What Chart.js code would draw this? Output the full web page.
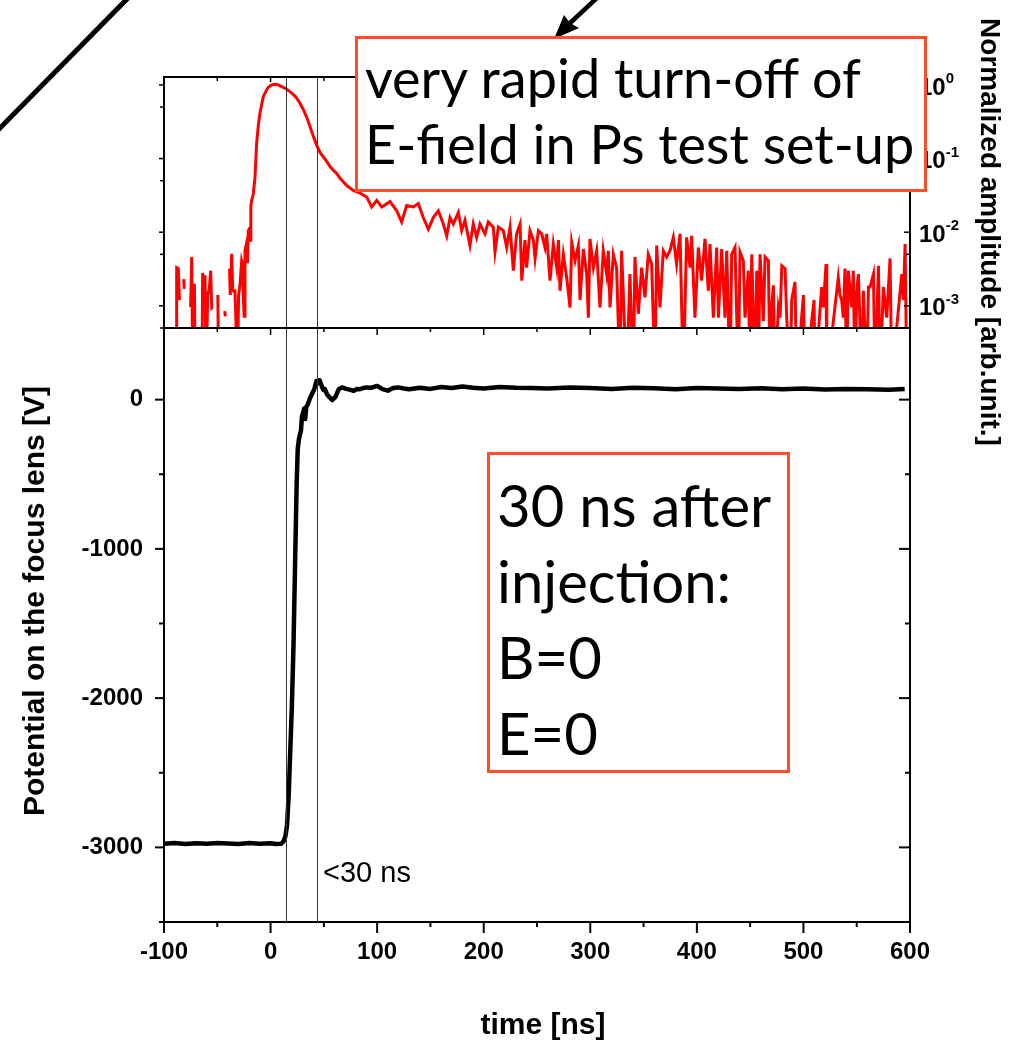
<!DOCTYPE html>
<html>
<head>
<meta charset="utf-8">
<script src="https://cdn.jsdelivr.net/npm/chart.js@4.4.0/dist/chart.umd.min.js"></script>
<style>
  body { margin: 0; background: #fff; }
  #page { position: relative; width: 1010px; height: 1043px; overflow: hidden; background: #fff; }
  #page canvas, #page svg { position: absolute; left: 0; top: 0; }
  .box { position: absolute; box-sizing: border-box; background: #fff; border: 3px solid #ff4f2a;
         font-family: Lato, 'Open Sans', sans-serif; color: #000; white-space: nowrap; }
  #box1 { left: 355px; top: 36px; width: 572px; height: 156px; font-size: 54px; line-height: 66px; padding: 6px 0 0 7px; }
  #box2 { left: 487px; top: 452px; width: 303px; height: 321px; font-size: 58px; line-height: 76px; padding: 12px 0 0 7px; }
  .lbl { position: absolute; font-family: 'Liberation Sans', Arial, sans-serif; color: #000; white-space: nowrap; text-align: center; }
  #note { left: 323px; top: 858px; font-size: 29px; line-height: 29px; text-align: left; }
  #xTitle { left: 443px; top: 1009px; width: 200px; font-size: 30px; line-height: 30px; font-weight: bold; }
  #yTitle { left: -216px; top: 586px; width: 500px; height: 30px; font-size: 30px; line-height: 30px; font-weight: bold; transform: rotate(-90deg); }
  #y2Title { left: 740px; top: 218px; width: 500px; height: 28px; font-size: 28px; line-height: 28px; font-weight: bold; transform: rotate(90deg); }
</style>
</head>
<body>
<div id="page">
  <canvas id="ampChart" width="1010" height="1043"></canvas>
  <canvas id="voltChart" width="1010" height="1043"></canvas>
  <svg width="1010" height="1043">
    <line x1="-2" y1="130" x2="128" y2="-2" stroke="#000" stroke-width="5"/>
    <line x1="598" y1="-3" x2="569" y2="24" stroke="#000" stroke-width="4.5"/>
    <polygon points="554,39 564,15 570,23 579,28" fill="#000"/>
  </svg>
  <div class="box" id="box1">very rapid turn-off of<br>E-field in Ps test set-up</div>
  <div class="box" id="box2">30 ns after<br>injection:<br>B=0<br>E=0</div>
  <div class="lbl" id="note">&lt;30 ns</div>
  <div class="lbl" id="xTitle">time [ns]</div>
  <div class="lbl" id="yTitle">Potential on the focus lens [V]</div>
  <div class="lbl" id="y2Title">Normalized amplitude [arb.unit.]</div>
</div>
<script>
// eixo de tempo (ns) comum aos dois painéis
const timeTicks = [-100, 0, 100, 200, 300, 400, 500, 600];
const timeMinor = [-50, 50, 150, 250, 350, 450, 550];
const markerTimes = [14.3, 43.4];

// painel inferior: potencial na lente (V)
const voltTicks = [-3000, -2000, -1000, 0];
const voltMinor = [-3500, -2500, -1500, -500];
const voltTime = [-100, -90, -80, -70, -60, -50, -40, -30, -20, -10,
  0, 5, 10, 12, 14, 15.5, 17, 18.5, 20, 21.5,
  23, 24.5, 25.5, 26.5, 27.5, 28.5, 29.5, 30.5, 31.5, 32.5,
  33.5, 35, 37, 39, 41, 43, 44.5, 46, 47.5, 49.5,
  51, 53, 55.5, 58, 61, 64, 67, 71, 75, 78,
  81, 84, 87, 90, 95, 100, 105, 110, 115, 120,
  125, 130, 140, 150, 160, 170, 180, 190, 200, 215,
  230, 245, 260, 280, 300, 320, 340, 360, 380, 400,
  420, 440, 460, 480, 500, 520, 540, 560, 580, 595];
const voltValue = [-2975, -2970, -2978, -2972, -2976, -2970, -2974, -2978, -2971, -2976,
  -2972, -2978, -2975, -2962, -2925, -2850, -2650, -2350, -2050, -1650,
  -1100, -560, -330, -270, -235, -210, -110, -90, -60, -130,
  -50, -30, 10, 40, 70, 125, 110, 130, 100, 65,
  70, 35, 15, -3, 20, 70, 82, 72, 65, 58,
  72, 70, 78, 82, 80, 92, 70, 60, 78, 82,
  75, 70, 80, 72, 85, 78, 88, 80, 75, 85,
  80, 78, 75, 82, 78, 72, 80, 76, 70, 78,
  74, 72, 76, 70, 74, 68, 72, 70, 66, 72];

// painel superior: amplitude normalizada (escala log)
const ampTicks = [1, 0.1, 0.01, 0.001];
const ampTickExp = ['0', '-1', '-2', '-3'];
const ampMinor = [0.5, 0.05, 0.005, 0.0005];
const ampTime = [-94.4, -92, -88.6, -88.1, -86.6, -85.5, -84, -81.5, -81, -79.5,
  -75, -74, -73, -71.5, -70.5, -68, -64.5, -63.7, -62.6, -61.5,
  -60.5, -59, -57.5, -56.2, -55.2, -54.3, -53, -49.5, -48.7, -46,
  -43, -42.5, -41, -38.5, -37.8, -36.5, -35.5, -33.4, -32.6, -31.2,
  -30, -28.7, -27.1, -26.3, -25.5, -24.8, -24, -22.4, -21.7, -20.9,
  -20.1, -19.3, -18.5, -17.7, -16.2, -14.6, -13.1, -11.5, -10, -6.9,
  -3.8, -2.2, 1, 4.2, 7.3, 10.4, 14.3, 18.1, 21.4, 24.6,
  27.7, 30.8, 34, 37.1, 40.2, 43.4, 46.5, 49.6, 52.8, 55.9,
  59, 62, 65.2, 71.5, 77.6, 83.9, 90.2, 94.9, 99.6, 104.3,
  112.1, 118.4, 123, 127.7, 133.9, 138.6, 143.3, 148, 152.7, 157.4,
  162.1, 165.3, 168.4, 171.5, 176.2, 179.3, 182.4, 187.1, 190.2, 193.4,
  196.5, 201.2, 204.3, 209, 210.6, 213.7, 218.4, 221.6, 224.7, 227.8,
  230.9, 234.1, 235.7, 238.7, 240.3, 243.4, 246.6, 248.2, 251.3, 254.4,
  257.5, 259.1, 262.2, 265.3, 268.5, 270.1, 271.6, 274.7, 277.9, 281,
  282.6, 285.7, 288.8, 290.4, 293.5, 296.6, 298.2, 299.7, 302.9, 306,
  309.1, 312.2, 315.4, 316.9, 318.5, 321.6, 324.7, 327.9, 329.4, 334.1,
  337.2, 340.4, 341.9, 345.1, 348.2, 351.3, 354.4, 357.6, 360.7, 362.3,
  365.4, 368.5, 371.7, 374.8, 377.9, 381, 384.2, 387.3, 390.4, 393.6,
  395.1, 398.2, 401.4, 404.5, 407.6, 410.8, 412.3, 415.5, 418.6, 420.2,
  423.3, 426.4, 428, 431.1, 432.7, 435.8, 438.9, 440.5, 443.6, 445.2,
  448.3, 449.9, 451.5, 454.6, 456.2, 457.7, 459.3, 462.4, 464, 467.1,
  468.7, 470.2, 471.8, 473.4, 476.5, 478.1, 479.7, 482.8, 484.3, 487.5,
  489, 492.1, 493.7, 500, 501.5, 510, 510.9, 517.1, 518.7, 521.2,
  521.9, 532.7, 534.3, 535.9, 537.4, 539, 540.6, 542.1, 545.3, 546.8,
  548.4, 550, 551.6, 554.7, 556.3, 559.4, 561, 562.5, 565.7, 567.2,
  570.4, 571.9, 575, 578.2, 581.3, 582.9, 592.3, 593.8, 595.4, 597];
const ampValue = [9.5e-4, null, 1e-4, 3.3e-3, 3.2e-3, 1.2e-3, null, 2.3e-3, 1.7e-3, null,
  9.6e-4, 4.6e-3, 1e-4, 2.0e-3, 1e-4, null, 1e-4, 2.8e-3, 1.2e-3, 2.6e-3,
  1e-4, 1.4e-3, 1.7e-3, 3.0e-3, 9.3e-4, 9.5e-4, null, 1.4e-3, 1e-4, null,
  8.5e-4, 7.2e-4, null, 3.2e-3, 1.4e-3, 5.1e-3, 1.6e-3, 1.6e-3, 7.1e-4, 1e-4,
  1.4e-3, 1.9e-3, 4.1e-3, 3.7e-3, 1.2e-3, 7.2e-4, 5.6e-3, 7.2e-3, 3.8e-3, 1.05e-2,
  1.1e-2, 7.8e-3, 2.3e-2, 2.7e-2, 3.3e-2, 5.6e-2, 0.16, 0.28, 0.41, 0.69,
  0.85, 0.93, 1.0, 1.02, 1.0, 0.95, 0.89, 0.81, 0.74, 0.66,
  0.56, 0.46, 0.36, 0.27, 0.20, 0.15, 0.12, 0.105, 0.091, 0.078,
  0.069, 0.063, 0.054, 0.043, 0.037, 0.034, 0.030, 0.022, 0.027, 0.022,
  0.026, 0.0195, 0.0138, 0.023, 0.022, 0.0245, 0.0158, 0.011, 0.0158, 0.0195,
  0.0129, 0.0089, 0.0158, 0.0129, 0.0186, 0.0105, 0.0145, 0.0066, 0.0129, 0.0085,
  0.0129, 0.0095, 0.0138, 0.0117, 0.0054, 0.0117, 0.0105, 0.0062, 0.0117, 0.0030,
  0.0095, 0.0129, 0.0022, 0.0078, 0.0033, 0.0105, 0.0078, 0.0044, 0.0105, 0.0095,
  0.0062, 0.0095, 0.0022, 0.0069, 0.0033, 0.0078, 0.0016, 0.0050, 0.0024, 0.00095,
  0.0072, 0.0041, 0.0066, 0.0012, 0.0059, 0.0027, 0.00069, 0.0081, 0.0033, 0.0056,
  0.00095, 0.0056, 0.0027, 0.0056, 0.00095, 0.0050, 0.0033, 1e-4, 0.0056, 1e-4,
  0.0027, 1e-4, 0.0046, 0.00078, 0.0033, 0.0013, 0.0050, 0.0037, 1e-4, 0.0066,
  0.00095, 0.0056, 0.0046, 0.0056, 0.0085, 0.0037, 0.0095, 1e-4, 0.0085, 0.0033,
  0.0089, 0.00069, 0.0062, 0.0022, 0.0081, 0.0016, 0.0069, 0.00069, 0.0062, 0.00069,
  0.0059, 0.00069, 0.0056, 1e-4, 0.0050, 0.0062, 1e-4, 0.0054, 0.0041, 0.00069,
  0.0030, 1e-4, 0.0050, 1e-4, 0.0030, 1e-4, 0.0050, 0.00062, 0.0046, 0.0041,
  1e-4, 0.00095, 0.0019, 1e-4, 0.00095, 0.00069, 0.0035, 0.0032, 0.00069, 1e-4,
  0.0012, 0.0021, 1e-4, 0.0014, 1e-4, 0.0012, 1e-4, 0.0018, 0.00095, 0.0037,
  1e-4, 0.0024, 0.0014, 0.0012, 0.00069, 0.0032, 1e-4, 0.0030, 0.00095, 0.0030,
  1e-4, 0.0016, 0.0027, 1e-4, 0.0016, 1e-4, 0.0018, 0.0018, 0.0027, 1e-4,
  0.0035, 1e-4, 0.0018, 0.00069, 0.0044, 1e-4, 0.0027, 0.0012, 0.0069, 1e-4];

const FONT = "'Liberation Sans', Arial, sans-serif";

// desenha um traço de marcação
function tick(ctx, x1, y1, x2, y2) {
  ctx.beginPath();
  ctx.moveTo(x1, y1);
  ctx.lineTo(x2, y2);
  ctx.stroke();
}

// linhas verticais de referência (inicio e fim da subida)
function drawMarkers(chart) {
  const { ctx, chartArea: a, scales: { x } } = chart;
  ctx.save();
  ctx.strokeStyle = '#333';
  ctx.lineWidth = 1;
  markerTimes.forEach(t => {
    const px = Math.round(x.getPixelForValue(t)) + 0.5;
    tick(ctx, px, a.top, px, a.bottom);
  });
  ctx.restore();
}

const ampFrame = {
  id: 'ampFrame',
  afterDatasetsDraw(chart) {
    const { ctx, chartArea: a, scales: { x, y } } = chart;
    drawMarkers(chart);
    ctx.save();
    ctx.strokeStyle = '#000';
    ctx.lineWidth = 2;
    ctx.strokeRect(a.left, a.top, a.right - a.left, a.bottom - a.top);
    ctx.lineWidth = 1.5;
    timeTicks.concat(timeMinor).forEach(t => {
      const px = x.getPixelForValue(t);
      const major = timeTicks.includes(t);
      tick(ctx, px, a.top, px, a.top + (major ? 5 : 4));
      tick(ctx, px, a.bottom, px, a.bottom + (major ? 7 : 4));
    });
    ampTicks.concat(ampMinor).forEach(v => {
      const py = y.getPixelForValue(v);
      const major = ampTicks.includes(v);
      tick(ctx, a.left - (major ? 5 : 4), py, a.left, py);
      tick(ctx, a.right - (major ? 6 : 4), py, a.right, py);
    });
    // rótulos 10^n à direita
    ctx.fillStyle = '#000';
    ctx.textBaseline = 'middle';
    ampTicks.forEach((v, i) => {
      const py = y.getPixelForValue(v);
      ctx.font = 'bold 24px ' + FONT;
      ctx.fillText('10', 919, py + 3);
      const w = ctx.measureText('10').width;
      ctx.font = 'bold 15px ' + FONT;
      ctx.fillText(ampTickExp[i], 919 + w, py - 6);
    });
    ctx.restore();
  }
};

const voltFrame = {
  id: 'voltFrame',
  afterDatasetsDraw(chart) {
    const { ctx, chartArea: a, scales: { x, y } } = chart;
    drawMarkers(chart);
    ctx.save();
    ctx.strokeStyle = '#000';
    ctx.lineWidth = 2;
    ctx.strokeRect(a.left, a.top, a.right - a.left, a.bottom - a.top);
    timeTicks.concat(timeMinor).forEach(t => {
      const px = x.getPixelForValue(t);
      tick(ctx, px, a.bottom, px, a.bottom + (timeTicks.includes(t) ? 11 : 5));
    });
    voltTicks.concat(voltMinor).forEach(v => {
      const py = y.getPixelForValue(v);
      const major = voltTicks.includes(v);
      tick(ctx, a.left - (major ? 9 : 5), py, a.left, py);
      tick(ctx, a.right - (major ? 11 : 5), py, a.right, py);
    });
    ctx.restore();
  }
};

new Chart(document.getElementById('ampChart'), {
  type: 'line',
  data: {
    datasets: [{
      data: ampTime.map((t, i) => ({ x: t, y: ampValue[i] })),
      borderColor: '#ff0000',
      borderWidth: 3,
      pointRadius: 0,
      tension: 0,
      spanGaps: false
    }]
  },
  options: {
    responsive: false,
    animation: false,
    layout: { padding: { left: 164, top: 77, right: 100, bottom: 715 } },
    plugins: { legend: { display: false }, tooltip: { enabled: false } },
    scales: {
      x: { type: 'linear', min: -100, max: 600, display: false },
      y: { type: 'logarithmic', min: 5e-4, max: 1.28, display: false }
    }
  },
  plugins: [ampFrame]
});

new Chart(document.getElementById('voltChart'), {
  type: 'line',
  data: {
    datasets: [{
      data: voltTime.map((t, i) => ({ x: t, y: voltValue[i] })),
      borderColor: '#000',
      borderWidth: 4.5,
      borderJoinStyle: 'round',
      pointRadius: 0,
      tension: 0
    }]
  },
  options: {
    responsive: false,
    animation: false,
    layout: { padding: { left: 0, top: 328, right: 100, bottom: 0 } },
    plugins: { legend: { display: false }, tooltip: { enabled: false } },
    scales: {
      x: {
        type: 'linear', min: -100, max: 600,
        afterBuildTicks: s => { s.ticks = timeTicks.map(v => ({ value: v })); },
        afterFit: s => { s.height = 121; },
        grid: { display: false, drawTicks: false },
        border: { display: false },
        ticks: { font: { family: FONT, size: 24, weight: 'bold' }, color: '#000', padding: 16, maxRotation: 0, autoSkip: false, callback: v => String(v) }
      },
      y: {
        min: -3500, max: 480,
        afterBuildTicks: s => { s.ticks = voltTicks.map(v => ({ value: v })); },
        afterFit: s => { s.width = 164; },
        grid: { display: false, drawTicks: false },
        border: { display: false },
        ticks: { font: { family: FONT, size: 24, weight: 'bold' }, color: '#000', padding: 21, callback: v => String(v) }
      }
    }
  },
  plugins: [voltFrame]
});
</script>
</body>
</html>
